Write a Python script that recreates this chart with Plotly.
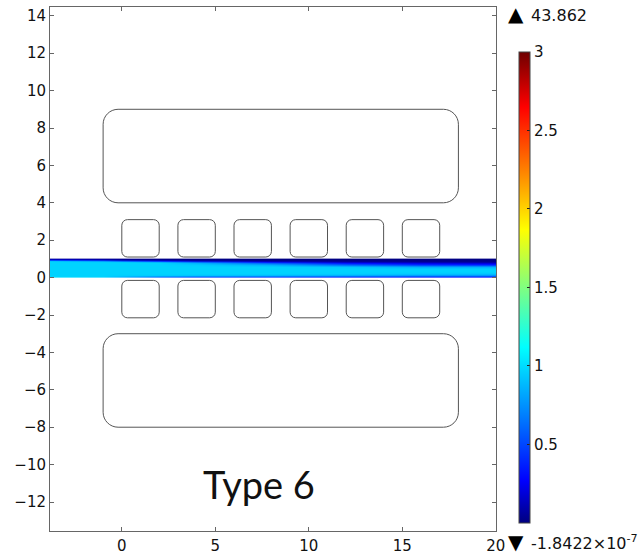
import plotly.graph_objects as go

# channel field
channel_x = [-3.8, -1, 0, 2, 4, 8, 12, 16, 20]
channel_y = [0.0, 0.02, 0.05, 0.1, 0.2, 0.3, 0.5, 0.6, 0.72, 0.8, 0.88, 0.93, 0.97, 1.0]
channel_z = [
    [1.5, 1.3, 0.3, 0.05, 0.03, 0.02, 0.02, 0.02, 0.02],
    [1.2, 1.1, 0.6, 0.3, 0.2, 0.15, 0.12, 0.1, 0.1],
    [1.0, 0.97, 0.85, 0.6, 0.5, 0.45, 0.38, 0.35, 0.3],
    [0.97, 0.97, 0.95, 0.93, 0.9, 0.85, 0.8, 0.72, 0.7],
    [0.97, 0.97, 0.97, 0.97, 0.97, 0.97, 0.96, 0.94, 0.92],
    [0.97, 0.97, 0.97, 0.97, 0.97, 0.97, 0.97, 0.97, 0.97],
    [0.97, 0.97, 0.97, 0.97, 0.97, 0.97, 0.97, 0.97, 0.97],
    [0.97, 0.97, 0.97, 0.97, 0.97, 0.97, 0.94, 0.85, 0.85],
    [0.97, 0.97, 0.97, 0.97, 0.95, 0.85, 0.6, 0.45, 0.4],
    [0.97, 0.97, 0.97, 0.97, 0.85, 0.55, 0.3, 0.2, 0.15],
    [0.97, 0.95, 0.93, 0.8, 0.55, 0.25, 0.1, 0.06, 0.05],
    [0.9, 0.7, 0.5, 0.3, 0.15, 0.05, 0.03, 0.02, 0.02],
    [0.3, 0.2, 0.1, 0.06, 0.03, 0.02, 0.02, 0.02, 0.02],
    [0.05, 0.03, 0.02, 0.02, 0.01, 0.01, 0.01, 0.01, 0.01],
]

# geometry outlines: (x0, x1, y0, y1, corner)
large_rects = [(-1, 18, 4, 9, 0.8), (-1, 18, -8, -3, 0.8)]
small_left = [0, 3, 6, 9, 12, 15]
small_width = 2
small_rows = [(1.1, 3.1), (-2.15, -0.15)]
small_corner = 0.3

x_ticks = [0, 5, 10, 15, 20]
y_ticks = [-12, -10, -8, -6, -4, -2, 0, 2, 4, 6, 8, 10, 12, 14]
cbar_ticks = [0.5, 1, 1.5, 2, 2.5, 3]

jet = [
    [0.0, "#00007f"], [0.09, "#0000ff"], [0.23, "#0080ff"], [0.373, "#00ffff"],
    [0.5, "#80ff80"], [0.623, "#ffff00"], [0.75, "#ff8000"], [0.883, "#ff0000"], [1.0, "#6f0000"],
]
FONT = "DejaVu Sans"
LINE = "#555555"
INK = "#111111"
tick_font = dict(family=FONT, size=15, color=INK)
side_font = dict(family=FONT, size=16, color=INK)


def rounded(x0, x1, y0, y1, r):
    k = 0.55 * r
    return (f"M{x0+r},{y0} L{x1-r},{y0} C{x1-r+k},{y0} {x1},{y0+r-k} {x1},{y0+r} "
            f"L{x1},{y1-r} C{x1},{y1-r+k} {x1-r+k},{y1} {x1-r},{y1} "
            f"L{x0+r},{y1} C{x0+r-k},{y1} {x0},{y1-r+k} {x0},{y1-r} "
            f"L{x0},{y0+r} C{x0},{y0+r-k} {x0+r-k},{y0} {x0+r},{y0} Z")


fig = go.Figure(go.Heatmap(
    x=channel_x, y=channel_y, z=channel_z, zmin=0, zmax=3, zsmooth="best",
    colorscale=jet, hoverinfo="skip",
    colorbar=dict(
        thickness=11, thicknessmode="pixels", len=471, lenmode="pixels",
        x=1.0516, xanchor="left", xpad=0, y=0.0153, yanchor="bottom", ypad=0,
        tickvals=cbar_ticks, ticktext=[f"{v:g}" for v in cbar_ticks],
        ticks="inside", ticklen=3, tickcolor="#222222",
        tickfont=tick_font, outlinecolor="#444444", outlinewidth=1,
    ),
))

shapes = [dict(type="path", path=rounded(*r), line=dict(color=LINE, width=1)) for r in large_rects]
for y0, y1 in small_rows:
    for x0 in small_left:
        shapes.append(dict(type="path", path=rounded(x0, x0 + small_width, y0, y1, small_corner),
                           line=dict(color=LINE, width=1)))

fig.update_layout(
    width=644, height=557, paper_bgcolor="white", plot_bgcolor="white",
    margin=dict(l=50, r=148, t=7, b=26, autoexpand=False, pad=0),
    shapes=shapes,
    annotations=[
        dict(xref="paper", yref="paper", x=0.4690, y=0.0897, xanchor="center", yanchor="middle",
             text="Type 6", showarrow=False, font=dict(family="Lato", size=38, color="#111111")),
        dict(xref="paper", yref="paper", x=1.0448, y=0.9866, xanchor="center", yanchor="middle",
             text="▲", showarrow=False, font=dict(family=FONT, size=20, color="#000000")),
        dict(xref="paper", yref="paper", x=1.0746, y=0.9847, xanchor="left", yanchor="middle",
             text="43.862", showarrow=False, font=side_font),
        dict(xref="paper", yref="paper", x=1.0448, y=-0.0210, xanchor="center", yanchor="middle",
             text="▼", showarrow=False, font=dict(family=FONT, size=20, color="#000000")),
        dict(xref="paper", yref="paper", x=1.0746, y=-0.0229, xanchor="left", yanchor="middle",
             text="-1.8422×10<sup>-7</sup>", showarrow=False, font=side_font),
    ],
    xaxis=dict(range=[-3.84, 20.01], tickvals=x_ticks, ticks="inside", ticklen=4, tickcolor="#666666",
               mirror="ticks", showline=True, linecolor="#666666", showgrid=False, zeroline=False,
               ticklabelstandoff=1, tickfont=tick_font),
    yaxis=dict(range=[-13.55, 14.47], tickvals=y_ticks, ticks="inside", ticklen=4, tickcolor="#666666",
               mirror="ticks", showline=True, linecolor="#666666", showgrid=False, zeroline=False,
               tickfont=tick_font),
)
fig.write_html("out.html", config={"displayModeBar": False},
               post_script="document.body.style.margin='0';")
